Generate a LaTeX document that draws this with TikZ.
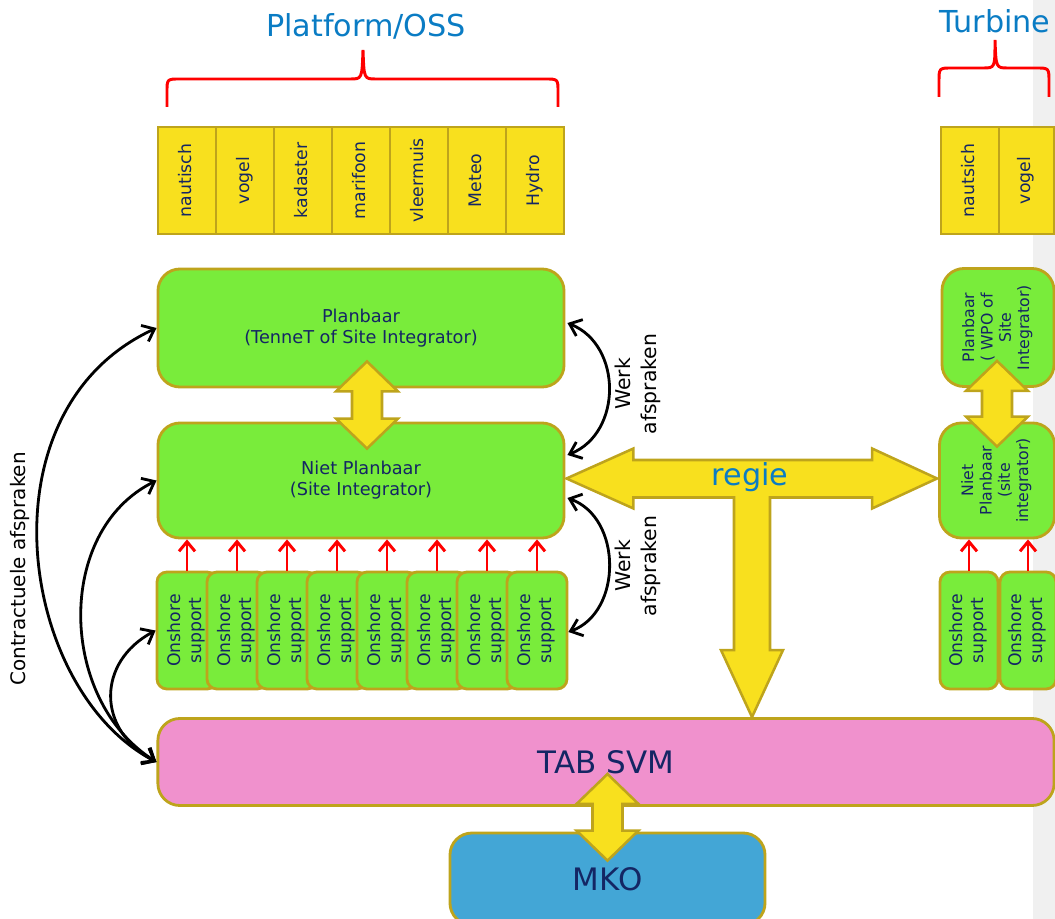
\documentclass[tikz,border=0pt]{standalone}
\usepackage{fontspec}
\setmainfont{DejaVu Sans}
\usepackage{graphicx}
\usetikzlibrary{calc}
\usetikzlibrary{arrows.meta}

\definecolor{boxedge}{RGB}{190,164,28}
\definecolor{celyellow}{RGB}{248,224,30}
\definecolor{plangreen}{RGB}{121,236,59}
\definecolor{svmpink}{RGB}{240,145,205}
\definecolor{mkoblue}{RGB}{67,166,214}
\definecolor{labelnavy}{RGB}{20,38,100}
\definecolor{titleblue}{RGB}{10,124,196}
\definecolor{stripgray}{RGB}{240,240,240}

\newcommand{\vtext}[1]{\rotatebox{90}{\begin{tabular}{@{}c@{}}#1\end{tabular}}}
% yellow double arrow between two tips (top, bottom)
\newcommand{\dblarrow}[2]{\filldraw[bigarrow] (#1) -- ($(#1)+(31,30)$) -- ($(#1)+(15,30)$) -- ($(#2)+(15,-30)$) -- ($(#2)+(31,-30)$) -- (#2) -- ($(#2)+(-31,-30)$) -- ($(#2)+(-15,-30)$) -- ($(#1)+(-15,30)$) -- ($(#1)+(-31,30)$) -- cycle;}

\tikzset{
  headtext/.style={text=titleblue, anchor=base, font=\fontsize{21.5}{26}\selectfont},
  cell/.style={draw=boxedge, fill=celyellow, line width=2pt, inner sep=0pt, minimum width=1.45cm, minimum height=2.675cm, text=labelnavy, font=\fontsize{12.3}{15}\selectfont},
  greenbox/.style={draw=boxedge, fill=plangreen, line width=2pt, rounded corners=0.55cm, align=center, inner sep=0pt, text=labelnavy, font=\fontsize{12.6}{15}\selectfont},
  osbox/.style={greenbox, rounded corners=0.25cm, minimum width=1.5cm, minimum height=2.925cm, font=\fontsize{12.3}{15}\selectfont},
  svmbox/.style={greenbox, fill=svmpink, font=\fontsize{22}{26}\selectfont},
  feed/.style={red, line width=2.1pt, -{Straight Barb[length=2.4mm,width=4mm]}},
  deal/.style={black, line width=2pt, {Straight Barb[length=2.7mm,width=4.4mm]}-{Straight Barb[length=2.7mm,width=4.4mm]}},
  sidenote/.style={font=\fontsize{14.5}{18}\selectfont, align=center, rotate=90},
  bigarrow/.style={fill=celyellow, draw=boxedge, line width=1.8pt},
  brace/.style={red, line width=2.1pt}
}

\begin{document}
\begin{tikzpicture}[x=0.025cm,y=-0.025cm]
    \useasboundingbox (0,0) rectangle (1055,919);
    \clip (0,0) rectangle (1055,919);
    \fill[stripgray] (1033,0) rectangle (1055,919); % grey strip on the right

    % Platform/OSS side
    \node[headtext] (ossHead) at (366,37) {Platform/OSS};
    \draw[brace] (167,107) -- (167,92) .. controls (167,79) .. (180,79) -- (350,79) .. controls (362,79) .. (363,50) .. controls (364,79) .. (376,79) -- (545,79) .. controls (558,79) .. (558,92) -- (558,107);
    \foreach \topic [count=\i] in {nautisch,vogel,kadaster,marifoon,vleermuis,Meteo,Hydro}
        \node[cell] (cell\i) at (129+58*\i,180.5) {\vtext{\topic}};

    % Turbine side
    \node[headtext] (turbHead) at (995,33) {Turbine};
    \draw[brace] (939,97) -- (939,82) .. controls (939,68) .. (952,68) -- (983,68) .. controls (995,68) .. (995,40) .. controls (996,68) .. (1008,68) -- (1036,68) .. controls (1049,68) .. (1049,82) -- (1049,97);
    \node[cell] (tcell1) at (970,180.5) {\vtext{nautsich}};
    \node[cell, minimum width=1.375cm] (tcell2) at (1026.5,180.5) {\vtext{vogel}};

    % planning boxes
    \node[greenbox, minimum width=10.15cm, minimum height=2.95cm] (plan) at (361,328) {Planbaar\\(TenneT of Site Integrator)};
    \node[greenbox, minimum width=10.15cm, minimum height=2.875cm] (niet) at (361,480.5) {Niet Planbaar\\(Site Integrator)};
    \node[greenbox, minimum width=2.8cm, minimum height=2.95cm, font=\fontsize{11.2}{13}\selectfont] (planR) at (998,327.5) {\vtext{Planbaar\\( WPO of\\Site\\Integrator)}};
    \node[greenbox, minimum width=2.875cm, minimum height=2.875cm, font=\fontsize{11.2}{13}\selectfont] (nietR) at (997,480.5) {\vtext{Niet\\Planbaar\\(site\\integrator)}};

    % onshore support
    \foreach \i in {1,...,8}
        \node[osbox] (os\i) at (137+50*\i,630.5) {\vtext{Onshore\\support}};
    \node[osbox, minimum width=1.45cm] (osR1) at (969,630.5) {\vtext{Onshore\\support}};
    \node[osbox, minimum width=1.4cm] (osR2) at (1028,630.5) {\vtext{Onshore\\support}};
    \foreach \i in {1,...,8}
        \draw[feed] (os\i.north) -- (os\i.north |- niet.south);
    \draw[feed] (osR1.north) -- (osR1.north |- nietR.south);
    \draw[feed] (osR2.north) -- (osR2.north |- nietR.south);

    % TAB SVM and MKO
    \node[svmbox, minimum width=22.4cm, minimum height=2.175cm] (svm) at (606,762) {TAB SVM};
    \node[svmbox, fill=mkoblue, minimum width=7.875cm, minimum height=2.3cm] (mko) at (607.5,879) {MKO};

    % yellow double arrows
    \coordinate (pnTop) at ($(plan.south)+(6,-27)$);
    \coordinate (pnBot) at ($(niet.north)+(6,27)$);
    \dblarrow{pnTop}{pnBot}
    \coordinate (pnTopR) at ($(planR.south)+(-1,-27)$);
    \coordinate (pnBotR) at ($(nietR.north)+(0,25)$);
    \dblarrow{pnTopR}{pnBotR}
    \coordinate (smTop) at ($(svm.center)+(1.5,12)$);
    \coordinate (smBot) at ($(mko.north)+(0,29)$);
    \dblarrow{smTop}{smBot}

    % regie
    \coordinate (rgL) at ($(niet.east)+(1,-2)$);
    \coordinate (rgR) at ($(nietR.west)+(-1,-2)$);
    \coordinate (rgD) at ($(svm.north)+(146,0)$);
    \coordinate (rgJ) at (rgL -| rgD);
    \filldraw[bigarrow] (rgL) -- ($(rgL)+(67,-30)$) -- ($(rgL)+(67,-18.5)$) -- ($(rgR)+(-65,-18.5)$) -- ($(rgR)+(-65,-30)$) -- (rgR) -- ($(rgR)+(-65,30)$) -- ($(rgR)+(-65,19)$) -- ($(rgJ)+(18,19)$) -- ($(rgD)+(18,-67)$) -- ($(rgD)+(31,-67)$) -- (rgD) -- ($(rgD)+(-31,-67)$) -- ($(rgD)+(-18,-67)$) -- ($(rgJ)+(-18,19)$) -- ($(rgL)+(67,19)$) -- ($(rgL)+(67,30)$) -- cycle;
    \node[headtext, anchor=center] (regie) at ($(rgJ)+(-2,-1)$) {regie};

    % contractuele afspraken
    \draw[deal] (svm.west) .. controls +(-138,-72) and +(-178,82) .. (plan.west);
    \draw[deal] (svm.west) .. controls +(-98,-62) and +(-102,50.5) .. (niet.west);
    \draw[deal] (svm.west) .. controls +(-60,-32) and +(-59,31.5) .. (os1.west);
    \node[sidenote, font=\fontsize{14.2}{17}\selectfont] (contract) at (20,569) {Contractuele afspraken};

    % werk afspraken
    \draw[deal] ($(plan.east)+(2,-5)$) .. controls +(55,22) and +(55,-22) .. ($(niet.east)+(2,-25.5)$);
    \draw[deal] ($(niet.east)+(2,17.5)$) .. controls +(55,20) and +(54,-20) .. ($(os8.east)+(0,1.5)$);
    \node[sidenote] (werk1) at (638,384) {Werk\\afspraken};
    \node[sidenote] (werk2) at (638,566) {Werk\\afspraken};
\end{tikzpicture}
\end{document}
